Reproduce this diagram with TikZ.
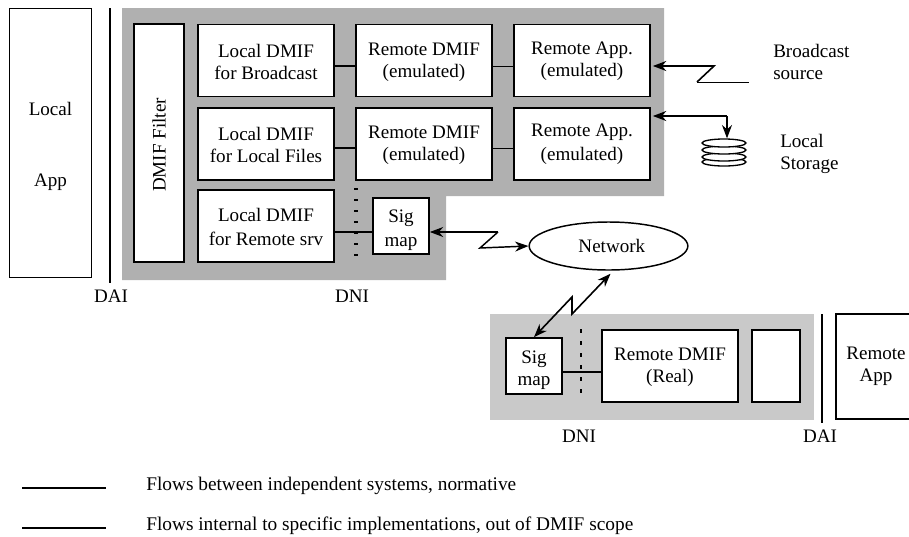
\documentclass[tikz,border=0pt]{standalone}
\usepackage{fontspec}
\setmainfont{Liberation Serif}
\usetikzlibrary{arrows.meta,shapes.geometric}
\definecolor{darkarea}{gray}{0.69}
\definecolor{lightarea}{gray}{0.79}
\newcommand{\dropline}[1]{\rule{0pt}{#1}}
\tikzstyle{module}=[rectangle, draw, line width=1.3pt, fill=white, inner sep=0pt, align=center, font=\fontsize{14.3}{16.5}\selectfont]
\tikzstyle{wide}=[module, minimum width=102pt, minimum height=54pt]
\tikzstyle{sigmap}=[module, minimum width=42pt, minimum height=42pt]
\tikzstyle{caption}=[inner sep=0pt, align=left, font=\fontsize{14.3}{17}\selectfont]
\tikzstyle{legendtext}=[caption, anchor=base west, font=\fontsize{14.5}{17}\selectfont]
\tikzstyle{flow}=[line width=1.1pt]
\tikzstyle{thinflow}=[line width=0.7pt]
\tikzstyle{pointto}=[{Stealth[length=10pt,width=7.5pt]}-, line width=1.2pt]
\tikzstyle{pointboth}=[{Stealth[length=10pt,width=7.5pt]}-{Stealth[length=10pt,width=7.5pt]}, line width=1.2pt]
\tikzstyle{disk}=[draw, fill=white, ellipse, line width=1pt, inner sep=0pt, minimum width=33pt, minimum height=6pt]

\begin{document}
\begin{tikzpicture}[x=0.75pt, y=-0.75pt]
\useasboundingbox (0,0) rectangle (909,536);
% grey areas
\fill[darkarea] (122,8) -- (664,8) -- (664,196) -- (446,196) -- (446,280) -- (122,280) -- cycle;
\fill[lightarea] (490,314) rectangle (814,420);
% local side
\node[module, minimum width=61.5pt, minimum height=201.75pt] (localapp) at (50.5,143) {\dropline{15.75pt}Local\\[36.75pt]App};
\coordinate (daitop) at (110,8);
\coordinate (daibot) at (110,283);
\draw[line width=1.2pt] (daitop) -- (daibot);
\node[module, minimum width=37.5pt, minimum height=178.5pt] (filter) at (159,143) {};
\node[caption, rotate=90] (filtertext) at (159,145) {DMIF Filter};
\node[wide] (lbroad) at (266,60.5) {\dropline{12.5pt}Local DMIF\\for Broadcast};
\node[wide] (rbroad) at (424,60.5) {\dropline{12.5pt}Remote DMIF\\(emulated)};
\node[wide] (abroad) at (582,60.5) {\dropline{11pt}Remote App.\\(emulated)};
\node[wide] (lfile) at (266,144) {\dropline{11pt}Local DMIF\\for Local Files};
\node[wide] (rfile) at (424,144) {\dropline{11pt}Remote DMIF\\(emulated)};
\node[wide] (afile) at (582,144) {Remote App.\\[1.5pt](emulated)};
\node[wide] (lsrv) at (266,226) {\dropline{11pt}Local DMIF\\[1.5pt]for Remote srv};
\node[sigmap] (sigl) at (401,226) {\dropline{16.25pt}Sig\\[1.5pt]map};
\draw[flow] (lbroad.east |- 0,66) -- (rbroad.west |- 0,66);
\draw[thinflow] (rbroad.east |- 0,66) -- (abroad.west |- 0,66);
\draw[flow] (lfile.east |- 0,148) -- (rfile.west |- 0,148);
\draw[thinflow] (rfile.east |- 0,148) -- (afile.west |- 0,148);
\draw[flow] (lsrv.east |- 0,232) -- (sigl.west |- 0,232);
\coordinate (dnitop) at (356,188);
\coordinate (dnibot) at (356,260);
\draw[line width=3pt, dash pattern=on 1.5pt off 6.75pt] (dnitop) -- (dnibot);
% broadcast source
\node[caption, anchor=west] (source) at (773,62) {Broadcast\\source};
\coordinate (b1) at (749,82);
\coordinate (b2) at (697,82);
\coordinate (b3) at (714,66);
\draw[pointto, shorten <=1.5pt] (abroad.east |- b3) -- (b3) -- (b2);
\draw[thinflow] (b2) -- (b1);
% local storage
\node[caption, anchor=west] (storage) at (780,154) {Local\\Storage};
\node[disk] (disk4) at (724,162) {};
\node[disk] (disk3) at (724,157) {};
\node[disk] (disk2) at (724,150) {};
\node[disk] (disk1) at (724,143) {};
\coordinate (scorner) at (727,116);
\draw[pointto, shorten <=1.5pt] (afile.east |- scorner) -- (scorner);
\draw[pointto, line width=0.8pt] (disk1.north -| scorner) -- (scorner);
% network
\node[draw, ellipse, line width=1.1pt, minimum width=119pt, minimum height=36pt, inner sep=0pt, font=\fontsize{14.3}{16.5}\selectfont] (net) at (608.5,246) {\hspace*{5pt}Network};
\coordinate (n1) at (498,232);
\coordinate (n2) at (480,248);
\draw[pointto, line width=0.8pt] (sigl.east |- n1) -- (n1);
\draw[flow, -{Stealth[length=10pt,width=7.5pt]}] (n1) -- (n2) -- (net.west);
\coordinate (m1) at (572,314);
\coordinate (m2) at (572,297);
% remote side
\node[sigmap] (sigr) at (534,366) {\dropline{16.5pt}Sig\\map};
\node[wide] (rreal) at (670,366) {\dropline{11pt}Remote DMIF\\(Real)};
\node[module, minimum width=36pt, minimum height=54pt] (blank) at (776,366) {};
\node[module, minimum width=60pt, minimum height=78.75pt] (remoteapp) at (876,366.5) {Remote\\App};
\draw[pointboth] ([shift={(2,3)}]net.south) -- (m1) -- (m2) -- (sigr.north);
\draw[flow] (sigr.east |- 0,372) -- (rreal.west |- 0,372);
\coordinate (dnirtop) at (581,329);
\coordinate (dnirbot) at (581,400);
\draw[line width=1.2pt, dash pattern=on 3pt off 6pt] (dnirtop) -- (dnirbot);
\coordinate (dairtop) at (822,314);
\coordinate (dairbot) at (822,423);
\draw[line width=0.8pt] (dairtop) -- (dairbot);
% labels
\node[caption, anchor=base] (dail) at (111,302) {DAI};
\node[caption, anchor=base] (dnil) at (352,302) {DNI};
\node[caption, anchor=base] (dnir) at (579,442) {DNI};
\node[caption, anchor=base] (dair) at (820,442) {DAI};
% legend
\coordinate (lega) at (22,488);
\coordinate (legb) at (106,488);
\coordinate (legc) at (22,528);
\coordinate (legd) at (106,528);
\draw[line width=1.5pt] (lega) -- (legb);
\draw[line width=1.5pt] (legc) -- (legd);
\node[legendtext] (legone) at (146,490) {Flows between independent systems, normative};
\node[legendtext] (legtwo) at (146,530) {Flows internal to specific implementations, out of DMIF scope};
\end{tikzpicture}
\end{document}
